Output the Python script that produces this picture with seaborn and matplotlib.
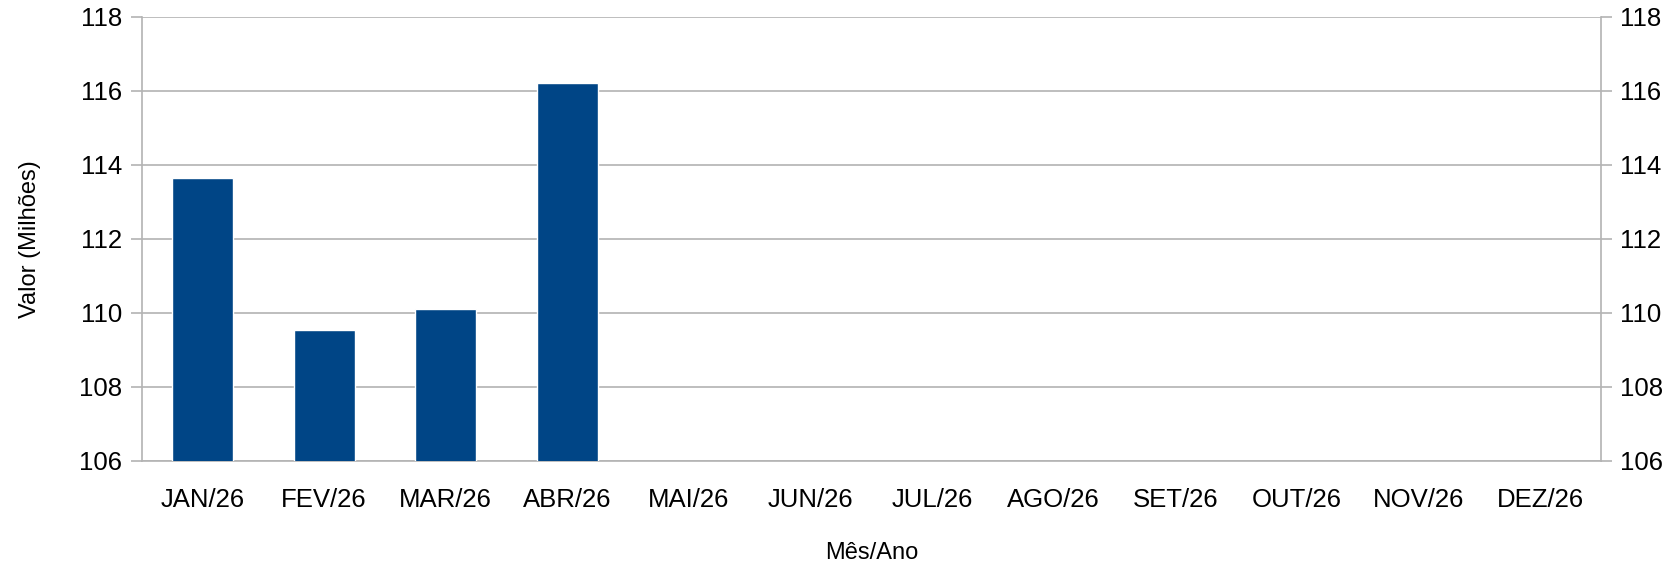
import matplotlib
matplotlib.use("Agg")
import matplotlib.pyplot as plt
import seaborn as sns
import pandas as pd
import numpy as np

# Data (millions) - only first four months reported
months = ["JAN/26", "FEV/26", "MAR/26", "ABR/26", "MAI/26", "JUN/26",
          "JUL/26", "AGO/26", "SET/26", "OUT/26", "NOV/26", "DEZ/26"]
reported = ["JAN/26", "FEV/26", "MAR/26", "ABR/26"]
values = [113.64, 109.52, 110.10, 116.22]
y_ticks = [106, 108, 110, 112, 114, 116, 118]

df = pd.DataFrame({"mes": reported, "valor": values})

sns.set_style("white")
plt.rcParams["font.family"] = ["Liberation Sans", "DejaVu Sans"]
plt.rcParams["text.color"] = "black"
plt.rcParams["axes.labelcolor"] = "black"
plt.rcParams["xtick.labelcolor"] = "black"
plt.rcParams["ytick.labelcolor"] = "black"

fig = plt.figure(figsize=(16.67, 5.63), dpi=100)
ax = fig.add_axes([0.085, 0.1817, 0.8754, 0.7886])

sns.barplot(data=df, x="mes", y="valor", order=months, color="#004586",
            saturation=1, width=0.5, ax=ax, zorder=3)

ax.set_ylim(106, 118)
ax.set_xlim(-0.5, len(months) - 0.5)
ax.set_yticks(y_ticks)
ax.set_yticklabels([str(t) for t in y_ticks])

grid_col = "#b3b3b3"
ax.grid(axis="y", color=grid_col, linewidth=1.2, zorder=0)
ax.set_axisbelow(True)
for side in ["left", "right", "bottom"]:
    ax.spines[side].set_visible(True)
    ax.spines[side].set_color(grid_col)
    ax.spines[side].set_linewidth(1.2)
ax.spines["top"].set_visible(False)

# ticks: labels at centers, tick marks at category boundaries
ax.set_xticks(range(len(months)))
ax.set_xticklabels(months)
ax.set_xticks(np.arange(-0.5, len(months)), minor=True)
ax.tick_params(axis="x", which="major", length=0, labelsize=18.5, pad=20)
ax.tick_params(axis="x", which="minor", length=8, width=1.2, color=grid_col)
ax.tick_params(axis="y", left=True, right=True, labelleft=True, labelright=True,
               length=8, width=1.2, color=grid_col, labelsize=18.5, pad=6)

ax.set_xlabel("Mês/Ano", fontsize=17)
ax.set_ylabel("Valor (Milhões)", fontsize=17)
ax.xaxis.set_label_coords(0.5, -0.182)
ax.yaxis.set_label_coords(-0.069, 0.5)

plt.savefig("out.png", dpi=100)
